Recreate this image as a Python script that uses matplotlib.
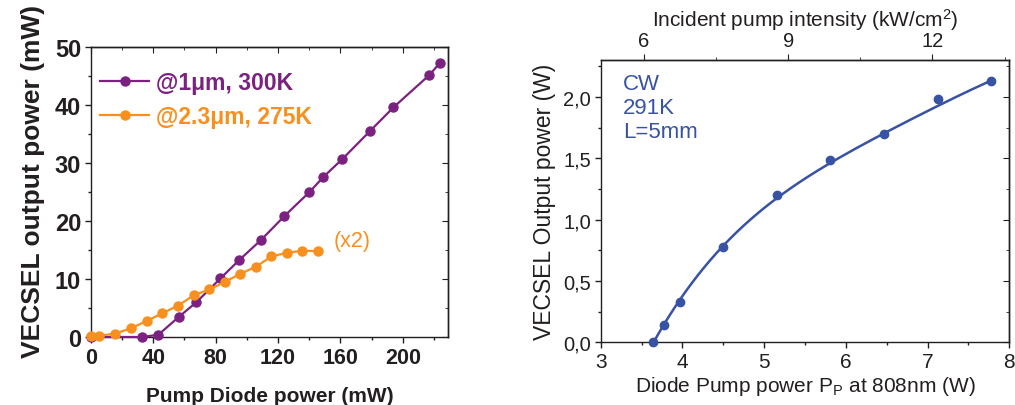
import numpy as np
import matplotlib
matplotlib.use("Agg")
import matplotlib.pyplot as plt
from matplotlib.ticker import MultipleLocator, FixedLocator

plt.rcParams['font.family'] = ['Liberation Sans', 'DejaVu Sans']
plt.rcParams['mathtext.fontset'] = 'custom'
plt.rcParams['mathtext.rm'] = 'Liberation Sans'
plt.rcParams['mathtext.it'] = 'Liberation Sans:italic'
plt.rcParams['mathtext.bf'] = 'Liberation Sans:bold'

# ---------------- data: left panel ----------------
pump_1um = [0, 33.1, 43.4, 56.6, 67.7, 83.1, 95.3, 109.4, 123.9, 140.2, 149.1,
            161.3, 179.3, 194.0, 217.1, 223.9]
out_1um = [0, 0, 0.4, 3.5, 6.0, 10.1, 13.3, 16.8, 20.8, 25.0, 27.6,
           30.7, 35.6, 39.6, 45.2, 47.3]
pump_23um = [0, 5.6, 15.8, 26.1, 35.9, 45.9, 56.0, 66.0, 76.1, 85.9, 95.9,
             105.8, 115.8, 125.6, 135.7, 145.7]
out_23um = [0.2, 0.2, 0.6, 1.55, 2.76, 4.1, 5.4, 7.2, 8.2, 9.5, 10.9,
            12.1, 13.9, 14.5, 14.9, 14.8]
label_1um = "@1μm, 300K"
label_23um = "@2.3μm, 275K"

# ---------------- data: right panel ----------------
diode_power = [3.645, 3.775, 3.971, 4.497, 5.154, 5.811, 6.468, 7.125, 7.778]
vecsel_power = [0.0, 0.141, 0.327, 0.776, 1.200, 1.488, 1.698, 1.984, 2.131]
fit_weights = [3, 1, 1, 1, 1, 1, 4, 1, 3]
intensity_per_watt = 1.70   # kW/cm^2 per W of diode power
y_ticks_right = [0.0, 0.5, 1.0, 1.5, 2.0]
y_ticklabels_right = ["0,0", "0,5", "1,0", "1,5", "2,0"]
top_ticks = [6, 9, 12]
annot_lines = ["CW", "291K", "L=5mm"]

PURPLE = "#7B2180"
ORANGE = "#F7901E"
BLUE = "#3852A4"
DARK = "#231F20"

fig = plt.figure(figsize=(10.15, 4.06), dpi=100)

# ================= left panel =================
ax = fig.add_axes([0.0894, 0.1675, 0.352, 0.714])
ax.plot(pump_1um, out_1um, '-o', color=PURPLE, lw=1.6, ms=6.5, clip_on=False,
        zorder=3, label=label_1um)
ax.plot(pump_23um, out_23um, '-o', color=ORANGE, lw=1.6, ms=6.5, clip_on=False,
        zorder=4, label=label_23um)
ax.set_xlim(0, 229)
ax.set_ylim(0, 50)
ax.xaxis.set_major_locator(MultipleLocator(40))
ax.xaxis.set_minor_locator(MultipleLocator(20))
ax.yaxis.set_major_locator(MultipleLocator(10))
ax.yaxis.set_minor_locator(MultipleLocator(5))
ax.tick_params(which='both', direction='out', colors=DARK, top=False, right=False)
ax.tick_params(which='major', length=4, width=1, pad=3)
ax.tick_params(which='minor', length=2.5, width=1)
ax.tick_params(axis='x', labelsize=15.5)
ax.tick_params(axis='y', labelsize=17)
for t in ax.get_xticklabels() + ax.get_yticklabels():
    t.set_fontweight('bold')
for s in ax.spines.values():
    s.set_color(DARK)
    s.set_linewidth(1.0)

secx = ax.secondary_xaxis('top')
secx.xaxis.set_major_locator(MultipleLocator(40))
secx.xaxis.set_minor_locator(MultipleLocator(20))
secx.tick_params(which='both', direction='in', labeltop=False, colors=DARK)
secx.tick_params(which='major', length=4)
secx.tick_params(which='minor', length=2.5)
secy = ax.secondary_yaxis('right')
secy.yaxis.set_major_locator(MultipleLocator(10))
secy.yaxis.set_minor_locator(MultipleLocator(5))
secy.tick_params(which='both', direction='in', labelright=False, colors=DARK)
secy.tick_params(which='major', length=4)
secy.tick_params(which='minor', length=2.5)
for sa in (secx, secy):
    for s in sa.spines.values():
        s.set_color(DARK)
        s.set_linewidth(1.0)

ax.set_ylabel("VECSEL output power (mW)", fontsize=19, fontweight='bold',
              color=DARK)
ax.yaxis.set_label_coords(-0.128, 0.54)
ax.set_xlabel("Pump Diode power (mW)", fontsize=15, fontweight='bold',
              color=DARK, labelpad=13)

leg = ax.legend(loc='upper left', bbox_to_anchor=(0.026, 0.918), frameon=False,
                handlelength=2.15, handletextpad=0.3,
                labelspacing=0.48, borderpad=0, borderaxespad=0,
                labelcolor='linecolor', prop={'weight': 'bold', 'size': 16.5})
ax.text(155.6, 16.7, "(x2)", color=ORANGE, fontsize=15.5, va='center', ha='left')

# ================= right panel =================
ax2 = fig.add_axes([0.5918, 0.1544, 0.4026, 0.6953])
coef = np.polyfit(diode_power, vecsel_power, 4, w=fit_weights)
xfit = np.linspace(diode_power[0] - 0.02, diode_power[-1], 300)
ax2.plot(xfit, np.polyval(coef, xfit), '-', color=BLUE, lw=1.8, zorder=3)
ax2.plot(diode_power, vecsel_power, 'o', color=BLUE, ms=6, clip_on=False, zorder=4)
ax2.set_xlim(3, 8)
ax2.set_ylim(0, 2.3)
ax2.xaxis.set_major_locator(MultipleLocator(1))
ax2.xaxis.set_minor_locator(MultipleLocator(0.5))
ax2.set_yticks(y_ticks_right)
ax2.set_yticklabels(y_ticklabels_right)
ax2.yaxis.set_minor_locator(MultipleLocator(0.25))
ax2.tick_params(which='both', direction='out', colors=DARK, top=False, right=False)
ax2.tick_params(which='major', length=4, width=1, pad=3)
ax2.tick_params(which='minor', length=2.5, width=1)
ax2.tick_params(axis='x', labelsize=15)
ax2.tick_params(axis='y', labelsize=14.5)
for s in ax2.spines.values():
    s.set_color(DARK)
    s.set_linewidth(1.0)

top = ax2.secondary_xaxis('top', functions=(lambda p: p * intensity_per_watt,
                                             lambda i: i / intensity_per_watt))
top.set_xticks(top_ticks)
top.xaxis.set_minor_locator(FixedLocator([7.5, 10.5, 13.5]))
top.tick_params(which='both', direction='out', colors=DARK, labelsize=14.5, pad=3)
top.tick_params(which='major', length=4)
top.tick_params(which='minor', length=2.5)
top.set_xlabel(r"Incident pump intensity (kW/cm$^\mathregular{2}$)", fontsize=15,
               color=DARK, labelpad=4)
ry = ax2.secondary_yaxis('right')
ry.yaxis.set_major_locator(MultipleLocator(0.5))
ry.yaxis.set_minor_locator(MultipleLocator(0.25))
ry.tick_params(which='both', direction='in', labelright=False, colors=DARK)
ry.tick_params(which='major', length=4)
ry.tick_params(which='minor', length=2.5)
for sa in (top, ry):
    for s in sa.spines.values():
        s.set_color(DARK)
        s.set_linewidth(1.0)

ax2.set_ylabel("VECSEL Output power (W)", fontsize=16.5, color=DARK, labelpad=5)
ax2.set_xlabel(r"Diode Pump power P$_\mathregular{P}$ at 808nm (W)", fontsize=15,
               color=DARK, labelpad=2)
ax2.text(0.055, 0.955, "\n".join(annot_lines), transform=ax2.transAxes,
         color=BLUE, fontsize=16, va='top', ha='left', linespacing=1.2)

fig.savefig("out.png", dpi=100)
